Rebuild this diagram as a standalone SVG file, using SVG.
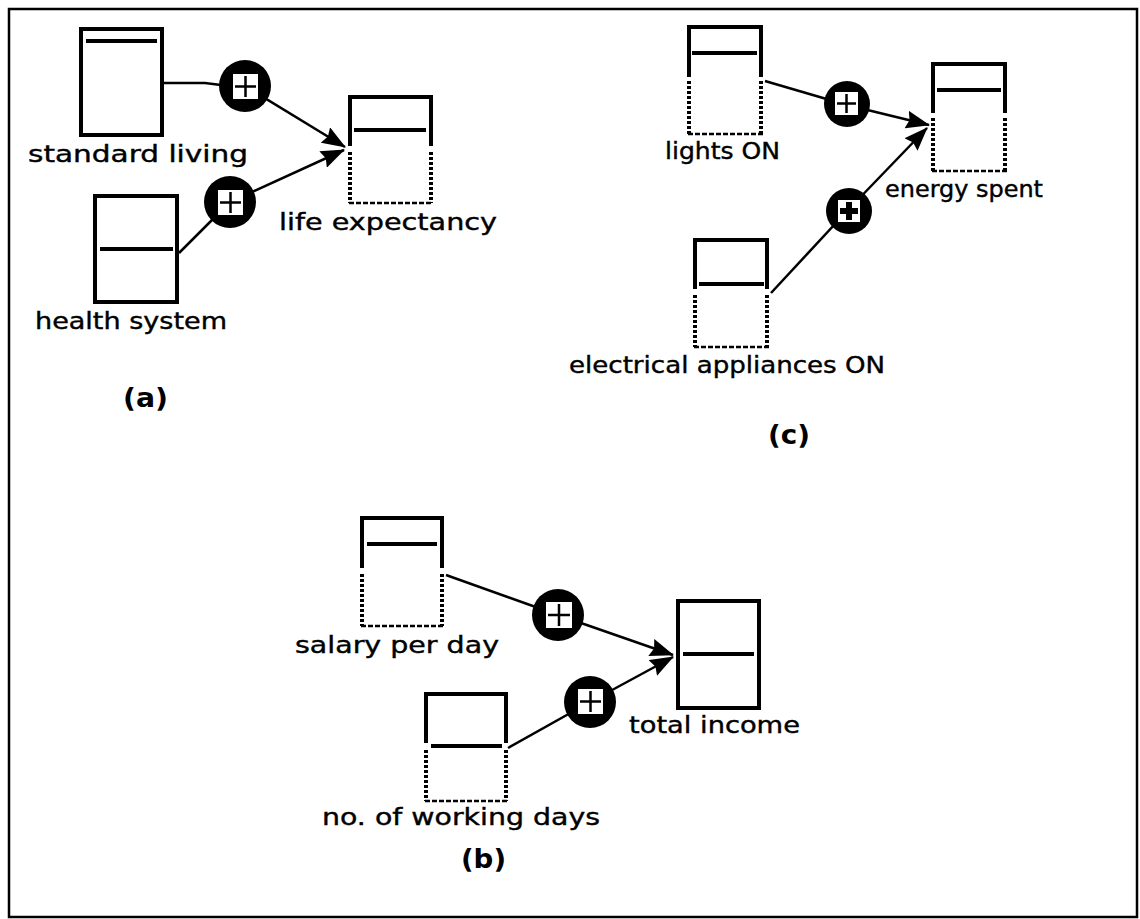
<svg xmlns="http://www.w3.org/2000/svg" width="1140" height="919" viewBox="0 0 1140 919">
<style>
  .solid{fill:none;stroke:#000;stroke-width:4;stroke-linecap:butt}
  .dashv{fill:none;stroke:#000;stroke-width:4;stroke-dasharray:3 2}
  .dashh{fill:none;stroke:#000;stroke-width:2.5;stroke-dasharray:5 2}
  .lvl{stroke:#000;stroke-width:4}
  .lbl{font-family:"DejaVu Sans","Liberation Sans",sans-serif;font-size:23px;fill:#000;stroke:#000;stroke-width:0.4}
  .cap{font-family:"DejaVu Sans","Liberation Sans",sans-serif;font-size:27px;font-weight:bold;fill:#000}
  .wire{fill:none;stroke:#000;stroke-width:2.5}
  .sq{fill:#fff}
  .pl{stroke:#000;stroke-width:2.5}
  .plb{stroke:#000;stroke-width:6}
</style>
<defs>
  <marker id="ah" markerUnits="userSpaceOnUse" markerWidth="24" markerHeight="18" refX="23" refY="9" orient="auto" viewBox="0 0 24 18">
    <path d="M0,0 L24,9 L0,18 L3,9 z" fill="#000"/>
  </marker>
</defs>
<rect x="0" y="0" width="1140" height="919" fill="#fff"/>
<rect x="9" y="9" width="1128" height="908" fill="none" stroke="#000" stroke-width="2.5"/>

<g id="connectors">
  <path class="wire" d="M164,83 H205 L245,88"/>
  <path class="wire" d="M245,86 L345,147" marker-end="url(#ah)"/>
  <path class="wire" d="M179,253 L230,202"/>
  <path class="wire" d="M230,202 L344,150" marker-end="url(#ah)"/>

  <path class="wire" d="M765,81 L847,105"/>
  <path class="wire" d="M847,105 L929,125" marker-end="url(#ah)"/>
  <path class="wire" d="M771,293 L848,210"/>
  <path class="wire" d="M848,210 L927,128" marker-end="url(#ah)"/>

  <path class="wire" d="M446,575 L558,615"/>
  <path class="wire" d="M558,615 L673,655" marker-end="url(#ah)"/>
  <path class="wire" d="M508,748 L590,702"/>
  <path class="wire" d="M590,702 L673,657" marker-end="url(#ah)"/>
</g>

<g id="plus-a1"><circle cx="245" cy="86" r="26"/><rect class="sq" x="233" y="74" width="25" height="25"/><path class="pl" d="M235,86.5 H256 M245.5,76 V97"/></g>
<g id="plus-a2"><circle cx="230" cy="202" r="26"/><rect class="sq" x="218" y="190" width="25" height="25"/><path class="pl" d="M220,202.5 H241 M230.5,192 V213"/></g>
<g id="plus-c1"><circle cx="847" cy="104" r="23"/><rect class="sq" x="835" y="92" width="23" height="23"/><path class="pl" d="M837,103.5 H856 M846.5,94 V113"/></g>
<g id="plus-c2"><circle cx="849" cy="211" r="23"/><rect class="sq" x="838" y="200" width="22" height="22"/><path class="plb" d="M840,211 H858 M849,202 V220"/></g>
<g id="plus-b1"><circle cx="558" cy="615" r="26"/><rect class="sq" x="546" y="602" width="26" height="26"/><path class="pl" d="M548,615 H570 M559,604 V626"/></g>
<g id="plus-b2"><circle cx="590" cy="702" r="26"/><rect class="sq" x="578" y="689" width="25" height="25"/><path class="pl" d="M580,701.5 H601 M590.5,691 V712"/></g>

<g id="standard-living">
  <rect class="solid" x="81" y="29" width="81" height="106"/>
  <line class="lvl" x1="86" y1="41" x2="157" y2="41"/>
  <text class="lbl" x="28" y="162" textLength="220" lengthAdjust="spacingAndGlyphs">standard living</text>
</g>
<g id="health-system">
  <rect class="solid" x="95" y="196" width="82" height="106"/>
  <line class="lvl" x1="100" y1="249" x2="173" y2="249"/>
  <text class="lbl" x="35" y="329" textLength="192" lengthAdjust="spacingAndGlyphs">health system</text>
</g>
<g id="life-expectancy">
  <path class="solid" d="M350,146 V97 H431 V146"/>
  <path class="dashv" d="M350,152 V203 M431,152 V203"/>
  <path class="dashh" d="M349,203 H433"/>
  <line class="lvl" x1="354" y1="130" x2="426" y2="130"/>
  <text class="lbl" x="279" y="230" textLength="218" lengthAdjust="spacingAndGlyphs">life expectancy</text>
</g>
<text class="cap" x="123" y="407" textLength="45" lengthAdjust="spacingAndGlyphs">(a)</text>

<g id="lights-on">
  <path class="solid" d="M689,77 V27 H761 V77"/>
  <path class="dashv" d="M689,81 V134 M761,81 V134"/>
  <path class="dashh" d="M688,134 H763"/>
  <line class="lvl" x1="692" y1="53" x2="757" y2="53"/>
  <text class="lbl" x="665" y="159" textLength="115" lengthAdjust="spacingAndGlyphs">lights ON</text>
</g>
<g id="energy-spent">
  <path class="solid" d="M933,113 V64 H1005 V113"/>
  <path class="dashv" d="M933,118 V171 M1005,118 V171"/>
  <path class="dashh" d="M932,171 H1007"/>
  <line class="lvl" x1="937" y1="90" x2="1001" y2="90"/>
  <text class="lbl" x="885" y="197" textLength="158" lengthAdjust="spacingAndGlyphs">energy spent</text>
</g>
<g id="electrical-appliances-on">
  <path class="solid" d="M695,289 V240 H767 V289"/>
  <path class="dashv" d="M695,295 V347 M767,295 V347"/>
  <path class="dashh" d="M694,347 H769"/>
  <line class="lvl" x1="699" y1="284" x2="764" y2="284"/>
  <text class="lbl" x="569" y="373" textLength="316" lengthAdjust="spacingAndGlyphs">electrical appliances ON</text>
</g>
<text class="cap" x="768" y="444" textLength="42" lengthAdjust="spacingAndGlyphs">(c)</text>

<g id="salary-per-day">
  <path class="solid" d="M362,568 V518 H442 V568"/>
  <path class="dashv" d="M362,574 V626 M442,574 V626"/>
  <path class="dashh" d="M361,626 H444"/>
  <line class="lvl" x1="367" y1="544" x2="437" y2="544"/>
  <text class="lbl" x="295" y="653" textLength="204" lengthAdjust="spacingAndGlyphs">salary per day</text>
</g>
<g id="total-income">
  <rect class="solid" x="678" y="601" width="81" height="107"/>
  <line class="lvl" x1="683" y1="654" x2="754" y2="654"/>
  <text class="lbl" x="629" y="733" textLength="171" lengthAdjust="spacingAndGlyphs">total income</text>
</g>
<g id="no-of-working-days">
  <path class="solid" d="M426,743 V694 H506 V743"/>
  <path class="dashv" d="M426,750 V801 M506,750 V801"/>
  <path class="dashh" d="M425,801 H508"/>
  <line class="lvl" x1="431" y1="746" x2="502" y2="746"/>
  <text class="lbl" x="322" y="825" textLength="278" lengthAdjust="spacingAndGlyphs">no. of working days</text>
</g>
<text class="cap" x="461" y="868" textLength="45" lengthAdjust="spacingAndGlyphs">(b)</text>
</svg>
